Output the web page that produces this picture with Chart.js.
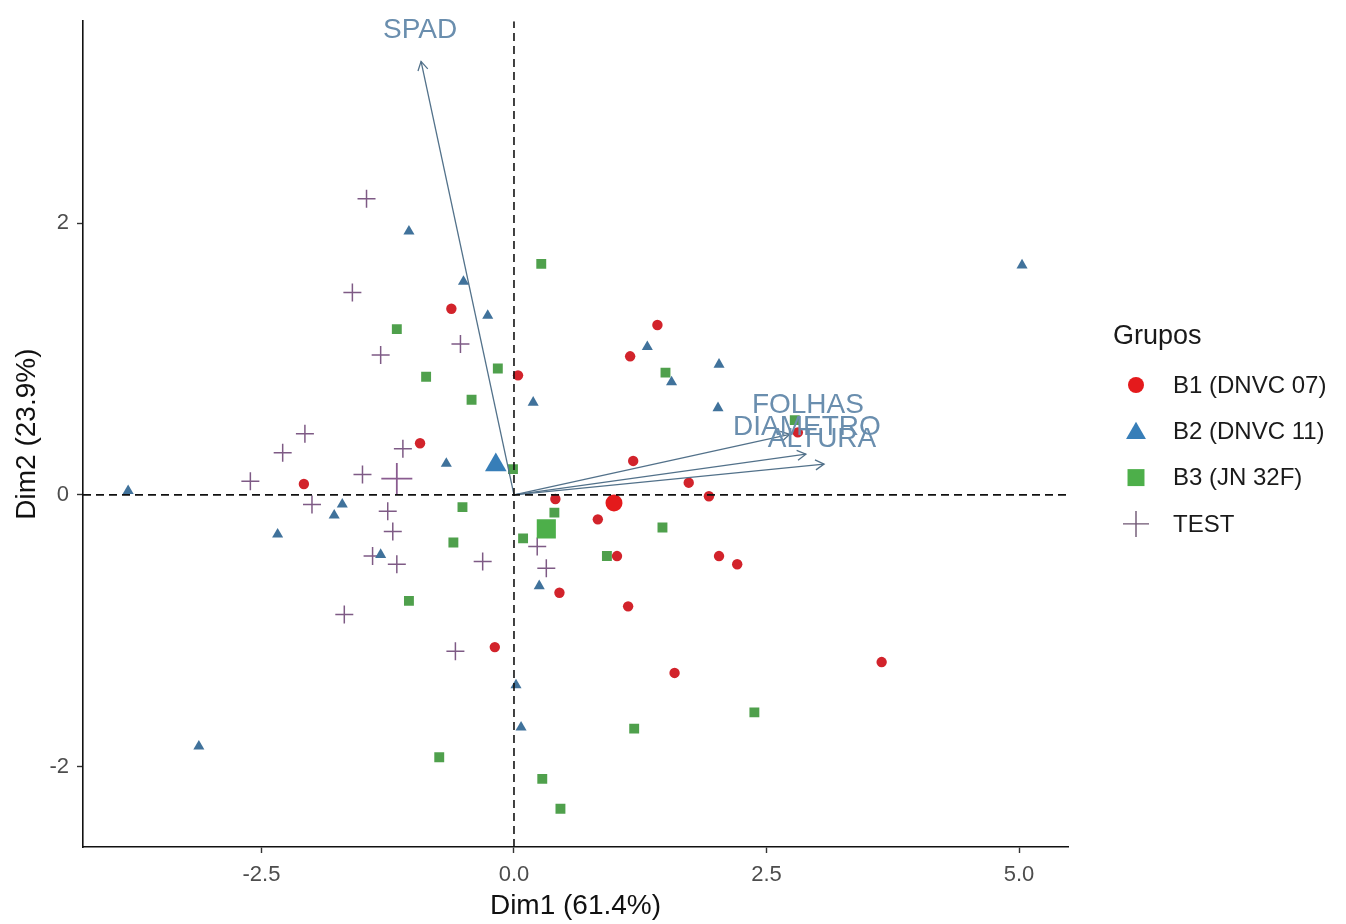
<!DOCTYPE html>
<html>
<head>
<meta charset="utf-8">
<script src="https://cdn.jsdelivr.net/npm/chart.js@4.4.1/dist/chart.umd.min.js"></script>
<style>
  html, body { margin: 0; padding: 0; background: #ffffff; }
  #wrap { width: 1346px; height: 924px; position: relative; }
</style>
</head>
<body>
<div id="wrap"><canvas id="c" width="1346" height="924"></canvas></div>
<script>
// ---------------- DATA ----------------
const groupNames = ['B1 (DNVC 07)', 'B2 (DNVC 11)', 'B3 (JN 32F)', 'TEST'];
const legendTitle = 'Grupos';
const xTitle = 'Dim1 (61.4%)';
const yTitle = 'Dim2 (23.9%)';

const xMin = -4.267, xMax = 5.485;
const yMin = -2.591, yMax = 3.486;
const xTicks = [-2.5, 0, 2.5, 5];
const xTickLabels = ['-2.5', '0.0', '2.5', '5.0'];
const yTicks = [-2, 0, 2];
const yTickLabels = ['-2', '0', '2'];

// B1 (DNVC 07)
const b1X = [-0.62, 0.04, -0.93, -2.08, 1.42, 1.15, 1.18, 1.73, 1.93, 0.41, 0.83, 1.02, 2.03, 2.21, 0.45, 1.13, -0.19, 1.59, 3.64, 2.81];
const b1Y = [1.37, 0.88, 0.38, 0.08, 1.25, 1.02, 0.25, 0.09, -0.01, -0.03, -0.18, -0.45, -0.45, -0.51, -0.72, -0.82, -1.12, -1.31, -1.23, 0.46];
// B2 (DNVC 11)
const b2X = [-1.04, 5.03, -0.50, -0.26, 1.32, 2.03, 1.56, 0.19, 2.02, -0.67, -3.82, -1.70, -1.78, -2.34, -1.32, 0.25, 0.02, 0.07, -3.12];
const b2Y = [1.94, 1.69, 1.57, 1.32, 1.09, 0.96, 0.83, 0.68, 0.64, 0.23, 0.03, -0.07, -0.15, -0.29, -0.44, -0.67, -1.40, -1.71, -1.85];
// B3 (JN 32F)
const b3X = [0.27, -1.16, -0.16, 1.50, -0.87, -0.42, -0.01, 2.78, -0.51, 0.40, 1.47, 0.09, -0.60, 0.92, -1.04, -0.74, 1.19, 2.38, 0.28, 0.46];
const b3Y = [1.70, 1.22, 0.93, 0.90, 0.87, 0.70, 0.19, 0.55, -0.09, -0.13, -0.24, -0.32, -0.35, -0.45, -0.78, -1.93, -1.72, -1.60, -2.09, -2.31];
// TEST
const tX = [-1.46, -1.60, -0.53, -1.32, -2.07, -2.29, -1.10, -2.61, -1.50, -2.00, -1.25, -1.20, -1.40, -1.16, -0.31, 0.23, 0.32, -1.68, -0.58];
const tY = [2.18, 1.49, 1.11, 1.03, 0.45, 0.31, 0.34, 0.10, 0.15, -0.07, -0.12, -0.27, -0.45, -0.51, -0.49, -0.38, -0.54, -0.88, -1.15];

// group centres (B1, B2, B3, TEST)
const meanX = [0.99, -0.18, 0.32, -1.16];
const meanY = [-0.06, 0.22, -0.25, 0.12];

// variables (arrow tips) and their label anchors
const varNames = ['SPAD', 'FOLHAS', 'DIAMETRO', 'ALTURA'];
const varX = [-0.92, 2.73, 2.89, 3.07];
const varY = [3.19, 0.446, 0.30, 0.227];
const varLabelX = [-0.93, 2.91, 2.90, 3.05];
const varLabelY = [3.42, 0.66, 0.50, 0.41];

// ---------------- STYLE ----------------
const FONT = "'Liberation Sans', Arial, sans-serif";
const pointColors = ['#D2232B', '#40729B', '#4FA04C', '#7E5A85'];
const legendColors = ['#E41A1C', '#377EB8', '#4DAF4A', '#6E5572'];
const meanColors = ['#E41A1C', '#377EB8', '#4DAF4A', '#8A5C90'];
const styles = ['circle', 'triangle', 'rect', 'cross'];
const smallRadius = [5.2, 6.4, 7.0, 9.0];
const meanRadius = [8.5, 12.5, 13.5, 15.5];
const arrowColor = '#52718A';
const varTextColor = '#6A8EAE';

const zip = (xs, ys) => xs.map((x, i) => ({ x: x, y: ys[i] }));
const groupX = [b1X, b2X, b3X, tX];
const groupY = [b1Y, b2Y, b3Y, tY];

const datasets = [];
// dashed reference lines (on top)
datasets.push({
  type: 'line', data: [{ x: xMin, y: 0 }, { x: xMax, y: 0 }],
  borderColor: '#111', borderWidth: 1.6, borderDash: [8, 5], pointRadius: 0, order: 0
});
datasets.push({
  type: 'line', data: [{ x: 0, y: yMin }, { x: 0, y: yMax }],
  borderColor: '#111', borderWidth: 1.6, borderDash: [8, 5], pointRadius: 0, order: 0
});
// variable arrows (shafts)
varNames.forEach((n, i) => {
  datasets.push({
    type: 'line', data: [{ x: 0, y: 0 }, { x: varX[i], y: varY[i] }],
    borderColor: arrowColor, borderWidth: 1.3, pointRadius: 0, order: 1
  });
});
// individuals
for (let g = 0; g < 4; g++) {
  const cross = styles[g] === 'cross';
  datasets.push({
    type: 'scatter', label: groupNames[g], data: zip(groupX[g], groupY[g]),
    pointStyle: styles[g], pointRadius: smallRadius[g],
    backgroundColor: pointColors[g], borderColor: pointColors[g],
    borderWidth: cross ? 1.5 : 0, order: 3
  });
}
// group means
for (let g = 0; g < 4; g++) {
  const cross = styles[g] === 'cross';
  datasets.push({
    type: 'scatter', label: groupNames[g] + ' mean', data: [{ x: meanX[g], y: meanY[g] }],
    pointStyle: styles[g], pointRadius: meanRadius[g],
    backgroundColor: meanColors[g], borderColor: meanColors[g],
    borderWidth: cross ? 1.8 : 0, order: 2
  });
}

// ---------------- PLUGINS ----------------
const biplotExtras = {
  id: 'biplotExtras',
  afterDatasetsDraw(chart) {
    const ctx = chart.ctx;
    const xs = chart.scales.x, ys = chart.scales.y;
    const ox = xs.getPixelForValue(0), oy = ys.getPixelForValue(0);
    ctx.save();
    // arrow heads (open)
    ctx.strokeStyle = arrowColor;
    ctx.lineWidth = 1.3;
    const headLen = 10, headAng = Math.PI / 6;
    varNames.forEach((n, i) => {
      const tx = xs.getPixelForValue(varX[i]), ty = ys.getPixelForValue(varY[i]);
      const ang = Math.atan2(ty - oy, tx - ox);
      ctx.beginPath();
      ctx.moveTo(tx - headLen * Math.cos(ang - headAng), ty - headLen * Math.sin(ang - headAng));
      ctx.lineTo(tx, ty);
      ctx.lineTo(tx - headLen * Math.cos(ang + headAng), ty - headLen * Math.sin(ang + headAng));
      ctx.stroke();
    });
    // variable labels
    ctx.fillStyle = varTextColor;
    ctx.font = '28px ' + FONT;
    ctx.textAlign = 'center';
    ctx.textBaseline = 'middle';
    varNames.forEach((n, i) => {
      ctx.fillText(n, xs.getPixelForValue(varLabelX[i]), ys.getPixelForValue(varLabelY[i]));
    });
    ctx.restore();
  },
  afterDraw(chart) {
    // legend
    const ctx = chart.ctx;
    const area = chart.chartArea;
    const left = area.right + 45;
    ctx.save();
    ctx.fillStyle = '#1a1a1a';
    ctx.font = '27px ' + FONT;
    ctx.textAlign = 'left';
    ctx.textBaseline = 'middle';
    ctx.fillText(legendTitle, left, 337);
    ctx.font = '24px ' + FONT;
    const legR = [8, 11.5, 12, 13];
    groupNames.forEach((name, g) => {
      const y = 385 + g * 46.3;
      const mx = left + 23;
      ctx.fillStyle = legendColors[g];
      ctx.strokeStyle = legendColors[g];
      ctx.lineWidth = 1.4;
      Chart.helpers.drawPoint(ctx, {
        pointStyle: styles[g], radius: legR[g], rotation: 0,
        borderWidth: styles[g] === 'cross' ? 1.4 : 0
      }, mx, styles[g] === 'triangle' ? y + 2 : y);
      ctx.fillStyle = '#1a1a1a';
      ctx.fillText(name, left + 60, y + 1);
    });
    ctx.restore();
  }
};

// ---------------- CHART ----------------
new Chart(document.getElementById('c'), {
  type: 'scatter',
  data: { datasets: datasets },
  options: {
    responsive: false,
    animation: false,
    events: [],
    layout: { padding: { top: 16, right: 278, bottom: 0, left: 0 } },
    plugins: { legend: { display: false }, tooltip: { enabled: false } },
    scales: {
      x: {
        type: 'linear', min: xMin, max: xMax,
        afterBuildTicks: s => { s.ticks = xTicks.map(v => ({ value: v })); },
        afterFit: s => { s.height = 77; },
        ticks: {
          callback: (v, i) => xTickLabels[i],
          color: '#4D4D4D', font: { family: FONT, size: 22 }, padding: 9, maxRotation: 0
        },
        grid: { display: true, drawOnChartArea: false, drawTicks: true, tickLength: 6, tickColor: '#333', tickWidth: 1.4 },
        border: { display: true, color: '#111', width: 1.6 },
        title: { display: true, text: xTitle, color: '#111', font: { family: FONT, size: 28 }, padding: { top: 0, bottom: 1 } }
      },
      y: {
        type: 'linear', min: yMin, max: yMax,
        afterBuildTicks: s => { s.ticks = yTicks.map(v => ({ value: v })); },
        afterFit: s => { s.width = 83; },
        ticks: {
          callback: (v, i) => yTickLabels[i],
          color: '#4D4D4D', font: { family: FONT, size: 22 }, padding: 8
        },
        grid: { display: true, drawOnChartArea: false, drawTicks: true, tickLength: 6, tickColor: '#333', tickWidth: 1.4 },
        border: { display: true, color: '#111', width: 1.6 },
        title: { display: true, text: yTitle, color: '#111', font: { family: FONT, size: 28 }, padding: { top: 10, bottom: 0 } }
      }
    }
  },
  plugins: [biplotExtras]
});
</script>
</body>
</html>
